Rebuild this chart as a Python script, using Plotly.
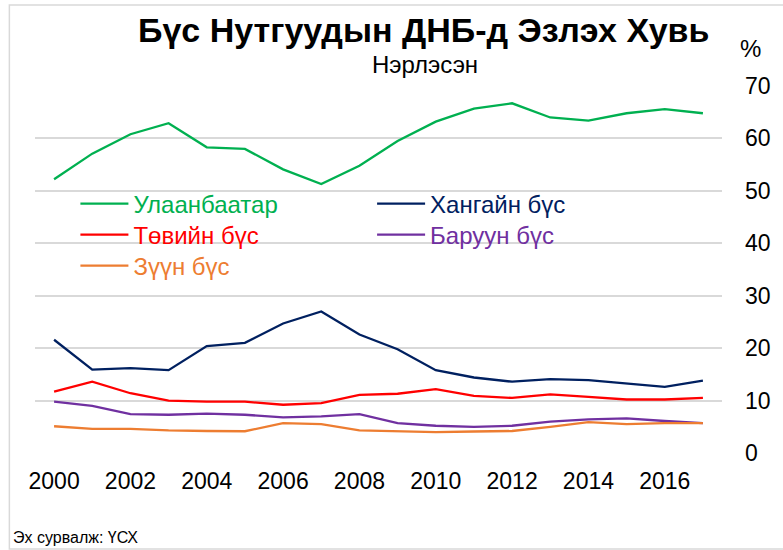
import plotly.graph_objects as go

years = list(range(2000, 2018))
ulaanbaatar = [52.2, 57.1, 60.8, 62.9, 58.3, 58.0, 54.1, 51.3, 54.8, 59.5, 63.2, 65.7, 66.7, 64.0, 63.4, 64.8, 65.6, 64.8]
khangai = [21.6, 15.9, 16.2, 15.8, 20.4, 21.0, 24.7, 27.0, 22.6, 19.8, 15.8, 14.4, 13.6, 14.1, 13.9, 13.2, 12.6, 13.8]
tuv = [11.7, 13.6, 11.4, 10.0, 9.8, 9.8, 9.2, 9.5, 11.1, 11.3, 12.2, 10.9, 10.5, 11.2, 10.7, 10.2, 10.2, 10.5]
baruun = [9.8, 9.0, 7.4, 7.3, 7.5, 7.3, 6.8, 7.0, 7.4, 5.7, 5.2, 5.0, 5.2, 6.0, 6.4, 6.6, 6.1, 5.7]
zuun = [5.1, 4.6, 4.6, 4.3, 4.2, 4.15, 5.7, 5.5, 4.3, 4.1, 4.0, 4.1, 4.2, 5.0, 5.9, 5.5, 5.7, 5.7]
tick_years = list(range(2000, 2017, 2))

W, H = 783, 550
L, R, T, B = 35, 51, 86, 97
PW, PH = W - L - R, H - T - B

def px(x):
    return (x - L) / PW

def py(y):
    return (H - B - y) / PH

FONT = "Liberation Sans, Arial, sans-serif"

# name, values, colour, legend id, legend x (px), legend y centre (px)
series = [
    ("Улаанбаатар", ulaanbaatar, "#00B050", "legend", 76, 204),
    ("Хангайн бүс", khangai, "#002060", "legend2", 377, 204),
    ("Төвийн бүс", tuv, "#FF0000", "legend3", 76, 235),
    ("Баруун бүс", baruun, "#7030A0", "legend4", 377, 235),
    ("Зүүн бүс", zuun, "#ED7D31", "legend5", 76, 266),
]

fig = go.Figure()
legends = {}
for name, vals, color, leg, lx, ly in series:
    fig.add_trace(go.Scatter(
        x=years, y=vals, mode="lines", name=f'<span style="color:{color}">{name}</span>',
        line=dict(color=color, width=2.3), legend=leg,
    ))
    legends[leg] = dict(x=px(lx), y=py(ly), xanchor="left", yanchor="middle",
                        font=dict(size=24, family=FONT), bgcolor="rgba(0,0,0,0)",
                        itemwidth=48)

fig.update_layout(
    width=W, height=H, margin=dict(l=L, r=R, t=T, b=B),
    paper_bgcolor="white", plot_bgcolor="white",
    font=dict(family=FONT, color="black"),
    showlegend=True,
    xaxis=dict(range=[1999.5, 2017.5], tickvals=tick_years, showgrid=False,
               zeroline=False, showline=False, ticks="",
               tickfont=dict(size=23, family=FONT, color="black"), ticklabelstandoff=12),
    yaxis=dict(range=[0, 70], dtick=10, side="right", showgrid=True,
               gridcolor="#D9D9D9", gridwidth=1.5, zeroline=False, showline=False,
               ticks="", tickfont=dict(size=23, family=FONT, color="black"),
               ticklabelstandoff=22),
    annotations=[
        dict(text="<b>Бүс Нутгуудын ДНБ-д Эзлэх Хувь</b>", x=px(429), y=py(30),
             xref="paper", yref="paper", showarrow=False, xanchor="center", yanchor="middle",
             font=dict(size=34, family=FONT, color="black")),
        dict(text="Нэрлэсэн", x=px(431), y=py(64), xref="paper", yref="paper",
             showarrow=False, xanchor="center", yanchor="middle",
             font=dict(size=24, family=FONT, color="black")),
        dict(text="%", x=px(761), y=py(48), xref="paper", yref="paper",
             showarrow=False, xanchor="center", yanchor="middle",
             font=dict(size=24, family=FONT, color="black")),
        dict(text="Эх сурвалж: ҮСХ", x=px(11), y=py(537), xref="paper", yref="paper",
             showarrow=False, xanchor="left", yanchor="middle",
             font=dict(size=16, family=FONT, color="black")),
    ],
    shapes=[
        dict(type="rect", xref="paper", yref="paper", x0=px(9), x1=px(800),
             y0=py(549), y1=py(5), line=dict(color="#D9D9D9", width=1.5),
             fillcolor="rgba(0,0,0,0)", layer="below"),
    ],
)
fig.update_layout(**legends)

fig.write_html("out.html", config={"displayModeBar": False},
               post_script="document.body.style.margin='0';document.body.style.overflow='hidden';")
